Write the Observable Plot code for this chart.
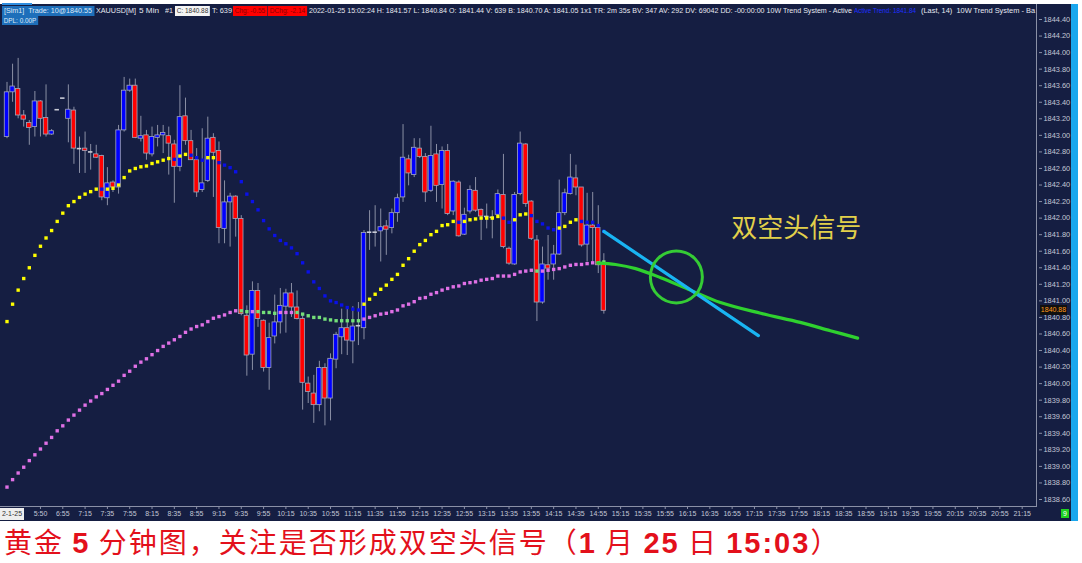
<!DOCTYPE html>
<html><head><meta charset="utf-8">
<script src="https://cdn.jsdelivr.net/npm/d3@7"></script>
<script src="https://cdn.jsdelivr.net/npm/@observablehq/plot@0.6"></script>
<style>
body{margin:0;background:#fff;}
#wrap{position:relative;width:1082px;height:563px;overflow:hidden;background:#fff;font-family:"Liberation Sans",Arial,sans-serif;}
#panel{position:absolute;left:0;top:4px;width:1071px;height:517px;background:#151e42;}
#cyan{position:absolute;left:1071px;top:4px;width:7px;height:517px;background:#1aa7ee;}
#topline{position:absolute;left:2px;top:3px;width:30px;height:2px;background:#2f8ee0;}
#chart{position:absolute;left:0;top:0;}
#frame{position:absolute;left:0;top:4px;width:1037px;height:503px;border-right:1px solid #8a90a6;border-bottom:1px solid #8a90a6;box-sizing:border-box;}
.hd{position:absolute;top:6px;height:10px;line-height:10px;font-size:7.4px;color:#e6e8f0;white-space:nowrap;display:inline-block;transform-origin:left center;}
.box{padding:0 2px;}
#cap{position:absolute;left:4px;top:526px;font-size:28px;letter-spacing:2px;color:#e3101b;white-space:nowrap;font-family:"Noto Sans CJK SC","Liberation Sans",sans-serif;line-height:30px;height:30px;}
#cap b{font-family:"Liberation Sans",Arial,sans-serif;font-weight:bold;font-size:29px;}
.ov{position:absolute;font-size:7px;line-height:9px;white-space:nowrap;text-align:center;}
</style></head>
<body>
<div id="wrap">
  <div id="panel"></div>
  <div id="cyan"></div>
  <div id="topline"></div>
  <div id="frame"></div>
  <div id="chart"></div>
  <div class="hd box" data-l="2" data-w="92" style="background:#1e6fba;color:#dfe9f7">[Sim1]&nbsp; Trade: 10@1840.55</div>
  <div class="hd" data-l="96" data-w="40">XAUUSD[M]</div>
  <div class="hd" data-l="139" data-w="20">5 Min</div>
  <div class="hd" data-l="165" data-w="8">#1</div>
  <div class="hd box" data-l="175" data-w="35" style="background:#f4f4f4;color:#333">C: 1840.88</div>
  <div class="hd" data-l="212" data-w="20">T: 639</div>
  <div class="hd box" data-l="233" data-w="34" style="background:#ff0000;color:#8a0000">Chg: -0.55</div>
  <div class="hd box" data-l="268" data-w="39" style="background:#ff0000;color:#8a0000">DChg: -2.14</div>
  <div class="hd" data-l="309" data-w="543">2022-01-25 15:02:24 H: 1841.57 L: 1840.84 O: 1841.44 V: 639 B: 1840.70 A: 1841.05 1x1 TR: 2m 35s BV: 347 AV: 292 DV: 69042 DD: -00:00:00 10W Trend System - Active</div>
  <div class="hd" data-l="854" data-w="62" style="color:#1f2fff">Active Trend: 1841.84</div>
  <div class="hd" data-l="921" data-w="114">(Last, 14)&nbsp; 10W Trend System - Ba</div>
  <div class="hd box" data-l="2" data-w="36" style="top:16px;height:9px;line-height:9px;background:#1e6fba;color:#dfe9f7">DPL: 0.00P</div>
  <div id="cap">黄金 <b>5</b> 分钟图，关注是否形成双空头信号（<b>1</b> 月 <b>25</b> 日 <b>15:03</b>）</div>
</div>
<script>
// ---- candle data (5-min bars, index 0 = first visible bar) ----
const opens = [1842.98,1843.52,1843.56,1843.24,1843.15,1843.10,1843.41,1843.21,1843.01,1843.31,
1843.45,1843.20,1843.30,1842.84,1842.84,1842.80,1842.77,1842.75,1842.24,1842.43,
1842.37,1843.06,1843.54,1843.60,1842.96,1843.00,1842.77,1842.97,1843.00,1842.99,
1842.89,1842.62,1843.23,1842.93,1842.70,1842.34,1842.45,1842.97,1842.81,1841.87,
1842.19,1842.26,1841.99,1840.82,1840.35,1841.12,1840.76,1840.19,1840.57,1840.74,
1840.93,1841.09,1840.92,1840.78,1840.00,1839.88,1839.74,1840.19,1839.82,1840.29,
1840.56,1840.67,1840.51,1840.70,1840.67,1841.83,1841.83,1841.84,1841.90,1841.88,
1842.06,1842.25,1842.71,1842.52,1842.84,1842.74,1842.33,1842.77,1842.40,1842.81,
1842.08,1842.43,1841.80,1842.08,1842.33,1842.10,1842.02,1842.01,1842.04,1842.28,
1841.63,1841.44,1842.29,1842.89,1842.20,1841.73,1840.98,1841.43,1841.44,1841.56,
1842.06,1842.29,1842.48,1842.37,1841.68,1841.91,1841.88,1841.44];
const highs = [1843.64,1843.86,1843.93,1843.30,1843.18,1843.53,1843.42,1843.61,1843.07,1843.31,
1843.45,1843.61,1843.34,1842.98,1843.04,1842.89,1842.88,1842.76,1842.61,1842.45,
1843.12,1843.70,1843.68,1843.68,1843.23,1843.06,1843.10,1843.12,1843.12,1843.10,
1842.94,1843.60,1843.45,1843.06,1842.84,1843.08,1843.22,1843.02,1842.92,1842.45,
1842.30,1842.27,1842.03,1840.94,1841.23,1841.21,1840.77,1840.73,1841.07,1841.15,
1841.14,1841.21,1841.12,1840.84,1840.08,1840.10,1840.27,1840.24,1840.36,1840.62,
1840.90,1840.90,1840.93,1840.98,1841.85,1842.09,1842.15,1842.11,1841.97,1842.11,
1842.29,1843.13,1842.76,1842.96,1842.96,1842.78,1843.11,1842.89,1842.86,1842.89,
1842.45,1842.45,1842.12,1842.39,1842.49,1842.11,1842.17,1842.09,1842.34,1842.77,
1841.65,1842.31,1843.04,1842.90,1842.21,1841.79,1841.65,1841.79,1841.67,1842.46,
1842.35,1842.77,1842.64,1842.37,1842.30,1842.31,1842.15,1841.57];
const lows = [1842.96,1843.40,1843.20,1843.10,1842.88,1842.98,1842.98,1842.98,1843.00,1843.31,
1843.45,1842.91,1842.65,1842.54,1842.54,1842.58,1842.72,1842.21,1842.15,1842.31,
1842.29,1843.04,1843.52,1842.96,1842.92,1842.70,1842.74,1842.86,1842.78,1842.52,
1842.18,1842.56,1842.88,1842.70,1842.25,1842.31,1842.43,1842.25,1841.69,1841.69,
1841.65,1841.77,1840.82,1840.09,1840.16,1840.68,1840.14,1839.92,1840.48,1840.60,
1840.61,1840.80,1840.77,1839.68,1839.76,1839.52,1839.66,1839.49,1839.55,1840.18,
1840.35,1840.34,1840.24,1840.46,1840.53,1841.61,1841.65,1841.47,1841.55,1841.81,
1841.95,1842.19,1842.39,1842.49,1842.72,1842.19,1842.31,1842.19,1842.11,1842.03,
1842.03,1841.77,1841.79,1842.05,1842.07,1841.73,1841.87,1841.75,1842.03,1841.63,
1841.43,1841.43,1842.27,1842.13,1841.73,1840.75,1840.96,1841.25,1841.25,1841.55,
1842.03,1842.28,1842.27,1841.65,1841.47,1841.45,1841.33,1840.84];
const closes = [1843.52,1843.59,1843.24,1843.19,1843.09,1843.41,1843.20,1843.01,1843.05,1843.31,
1843.45,1843.31,1842.84,1842.84,1842.81,1842.80,1842.73,1842.25,1842.42,1842.37,
1843.06,1843.54,1843.60,1842.97,1842.99,1842.78,1842.98,1843.00,1843.03,1842.90,
1842.62,1843.22,1842.93,1842.70,1842.31,1842.42,1842.96,1842.79,1841.88,1842.19,
1842.26,1841.99,1840.84,1840.34,1841.12,1840.78,1840.19,1840.55,1840.74,1840.94,
1841.09,1840.92,1840.78,1840.01,1839.90,1839.74,1840.19,1839.82,1840.30,1840.59,
1840.67,1840.52,1840.69,1840.70,1841.82,1841.83,1841.83,1841.89,1841.86,1842.06,
1842.24,1842.73,1842.54,1842.85,1842.74,1842.31,1842.75,1842.39,1842.81,1842.05,
1842.44,1841.78,1842.04,1842.34,1842.09,1842.02,1842.02,1842.01,1842.29,1841.65,
1841.45,1842.28,1842.90,1842.17,1841.75,1840.98,1841.44,1841.39,1841.56,1842.06,
1842.30,1842.49,1842.37,1841.67,1841.91,1841.88,1841.43,1840.88];

// ---- trend-system dots ----
const fastVals = [1840.75,1840.96,1841.13,1841.27,1841.40,1841.55,1841.66,1841.76,1841.85,1841.96,
1842.06,1842.15,1842.20,1842.25,1842.29,1842.32,1842.35,1842.35,1842.35,1842.36,
1842.40,1842.49,1842.57,1842.60,1842.62,1842.63,1842.66,1842.68,1842.70,1842.72,
1842.71,1842.75,1842.77,1842.76,1842.73,1842.70,1842.73,1842.73,1842.67,1842.64,
1842.61,1842.56,1842.44,1842.29,1842.20,1842.10,1841.97,1841.87,1841.79,1841.73,
1841.69,1841.64,1841.57,1841.46,1841.35,1841.23,1841.15,1841.06,1841.00,1840.98,
1840.95,1840.92,1840.90,1840.89,1840.96,1841.02,1841.08,1841.14,1841.19,1841.26,
1841.32,1841.43,1841.51,1841.60,1841.68,1841.73,1841.80,1841.84,1841.91,1841.92,
1841.96,1841.95,1841.96,1841.98,1841.99,1842.00,1842.00,1842.00,1842.02,1842.00,
1841.95,1841.98,1842.04,1842.05,1842.03,1841.96,1841.93,1841.88,1841.86,1841.88,
1841.90,1841.95,1841.98,1841.96,1841.95,1841.95,1841.91,1841.84];
const fastState = ("uuuuuuuuuuuuuuuuu" + "d" + "uuuuuuuuuuuu" + "d" + "uu" + "ddd" + "uu" +
  "dddddddddddddddddddddddddd" + "uuuuuuuuuuuuuuuuu" + "d" + "uuuuuuu" + "dd" + "uuu" +
  "ddddd" + "uuuu" + "ddddd").split("");
const slowVals = [1838.75,1838.84,1838.92,1838.99,1839.07,1839.14,1839.21,1839.28,1839.35,1839.43,
1839.49,1839.56,1839.62,1839.68,1839.74,1839.79,1839.84,1839.88,1839.93,1839.98,
1840.03,1840.10,1840.15,1840.21,1840.26,1840.30,1840.35,1840.40,1840.45,1840.49,
1840.53,1840.57,1840.62,1840.66,1840.69,1840.71,1840.75,1840.79,1840.81,1840.83,
1840.86,1840.88,1840.88,1840.87,1840.87,1840.87,1840.86,1840.86,1840.85,1840.86,
1840.86,1840.86,1840.86,1840.84,1840.82,1840.80,1840.80,1840.78,1840.77,1840.76,
1840.76,1840.76,1840.76,1840.76,1840.78,1840.80,1840.82,1840.84,1840.85,1840.87,
1840.89,1840.94,1840.96,1840.99,1841.03,1841.04,1841.08,1841.10,1841.13,1841.15,
1841.17,1841.18,1841.21,1841.22,1841.23,1841.25,1841.26,1841.27,1841.30,1841.30,
1841.30,1841.32,1841.35,1841.36,1841.37,1841.36,1841.36,1841.37,1841.38,1841.39,
1841.41,1841.43,1841.44,1841.44,1841.45,1841.46,1841.46,1841.47];
const slowState = ("p".repeat(42) + "gg" + "p" + "gggg" + "ppp" + "g".repeat(12) +
  "p".repeat(31) + "g" + "p".repeat(10) + "gg").split("");

// ---- axes ----
const xTickIdx = [6,10,14,18,22,26,30,34,38,42,46,50,54,58,62,66,70,74,78,82,86,90,94,98,102,106,
110,114,118,122,126,130,134,138,142,146,150,154,158,162,166,170,174,178,182];
const xTickLabels = ["5:50","6:55","7:15","7:35","7:55","8:15","8:35","8:55","9:15","9:35","9:55",
"10:15","10:35","10:55","11:15","11:35","11:55","12:15","12:35","12:55","13:15","13:35","13:55",
"14:15","14:35","14:55","15:15","15:35","15:55","16:15","16:35","16:55","17:15","17:35","17:55",
"18:15","18:35","18:55","19:15","19:35","19:55","20:15","20:35","20:55","21:15"];
const yTicks = [1838.6,1838.8,1839.0,1839.2,1839.4,1839.6,1839.8,1840.0,1840.2,1840.4,1840.6,1840.8,
1841.0,1841.2,1841.4,1841.6,1841.8,1842.0,1842.2,1842.4,1842.6,1842.8,1843.0,1843.2,1843.4,1843.6,
1843.8,1844.0,1844.2,1844.4];
const dateLabel = "2-1-25";
const lastPrice = 1840.88;

// ---- hand-drawn annotations (bar index, price) ----
const cyanX = [107, 134.7];
const cyanY = [1841.84, 1840.58];
const greenX = [105.9, 109.1, 112.7, 117.2, 122.5, 127.9, 135.1, 142.2, 147.6, 152.5];
const greenY = [1841.46, 1841.44, 1841.39, 1841.28, 1841.13, 1840.98, 1840.85, 1840.74, 1840.64, 1840.55];
const circleX = [120.0];
const circleY = [1841.29];
const noteText = ["双空头信号"];
const noteX = [141.5];
const noteY = [1841.87];

// ---- build ----
const bars = opens.map((o, k) => ({k, o, h: highs[k], l: lows[k], c: closes[k]}));
const fast = fastVals.map((v, k) => ({k, v, s: fastState[k]}));
const slow = slowVals.map((v, k) => ({k, v, s: slowState[k]}));
const labelOf = new Map(xTickIdx.map((t, i) => [t, xTickLabels[i]]));
const cyan = cyanX.map((x, i) => ({x, y: cyanY[i]}));
const green = greenX.map((x, i) => ({x, y: greenY[i]}));
const circ = circleX.map((x, i) => ({x, y: circleY[i]}));
const notes = noteText.map((t, i) => ({t, x: noteX[i], y: noteY[i]}));

const chart = Plot.plot({
  width: 1082, height: 522,
  marginLeft: 0, marginRight: 44, marginTop: 19, marginBottom: 15,
  style: {background: "transparent", color: "#c3c7d6", fontFamily: "Liberation Sans, Arial, sans-serif", fontSize: "7px", overflow: "visible"},
  x: {domain: [0, 182], range: [6.5, 1021.7], label: null},
  y: {domain: [1838.6, 1844.4], range: [499, 19], label: null},
  marks: [
    Plot.axisY({anchor: "right", ticks: yTicks, tickFormat: d => d.toFixed(2), tickSize: 3, tickPadding: 2, fontSize: 7.4, stroke: "#8a90a6", label: null}),
    Plot.axisX({anchor: "bottom", ticks: xTickIdx, tickFormat: d => labelOf.get(d), tickSize: 2, tickPadding: 2, fontSize: 7, stroke: "#8a90a6", label: null}),
    Plot.ruleX(bars, {x: "k", y1: "l", y2: "h", stroke: "#8a8fa4", strokeWidth: 1}),
    Plot.rect(bars.filter(d => d.o !== d.c), {x1: d => d.k - 0.4, x2: d => d.k + 0.4, y1: "o", y2: "c",
      fill: d => d.c > d.o ? "#0000ff" : "#ff0000", stroke: "#a3a8bd", strokeWidth: 0.8}),
    Plot.ruleY(bars.filter(d => d.o === d.c), {y: "o", x1: d => d.k - 0.4, x2: d => d.k + 0.4, stroke: "#c9cbd6", strokeWidth: 1.6}),
    Plot.dot(slow, {x: "k", y: "v", symbol: "square", r: 1.9, fill: d => d.s === "g" ? "#74e07a" : "#e070e6", stroke: null}),
    Plot.dot(fast, {x: "k", y: "v", symbol: "square", r: 1.9, fill: d => d.s === "u" ? "#ffff00" : "#0a10e8", stroke: null}),
    Plot.line(green, {x: "x", y: "y", curve: "catmull-rom", stroke: "#2fd12f", strokeWidth: 3.2}),
    Plot.line(cyan, {x: "x", y: "y", stroke: "#19b4f2", strokeWidth: 3.2}),
    Plot.dot(circ, {x: "x", y: "y", r: 26, stroke: "#35cc35", strokeWidth: 3, fill: "none"}),
    Plot.text(notes, {x: "x", y: "y", text: "t", fill: "#e2d04a", fontSize: 26, fontFamily: "Noto Sans CJK SC, sans-serif"})
  ]
});
document.getElementById("chart").appendChild(chart);

// overlays positioned through the plot's own scales
const wrap = document.getElementById("wrap");
const ys = chart.scale("y");
const pb = document.createElement("div");
pb.className = "ov";
pb.textContent = lastPrice.toFixed(2);
Object.assign(pb.style, {left: "1040px", width: "27px", top: (ys.apply(lastPrice) - 5) + "px", height: "10px", lineHeight: "10px", background: "#101010", color: "#ff9a1a"});
wrap.appendChild(pb);
const db = document.createElement("div");
db.className = "ov";
db.textContent = dateLabel;
Object.assign(db.style, {left: "0px", width: "24px", top: "508px", height: "12px", lineHeight: "12px", background: "#eeeeee", color: "#333"});
wrap.appendChild(db);
const g9 = document.createElement("div");
g9.className = "ov";
g9.textContent = "9";
Object.assign(g9.style, {left: "1061px", width: "8px", top: "509px", height: "9px", background: "#1fd11f", color: "#fff"});
wrap.appendChild(g9);

// header text fitted to measured widths
document.querySelectorAll(".hd").forEach(el => {
  el.style.left = el.dataset.l + "px";
  const w = el.getBoundingClientRect().width;
  el.style.transform = `scaleX(${(+el.dataset.w) / w})`;
});
</script>
</body></html>
